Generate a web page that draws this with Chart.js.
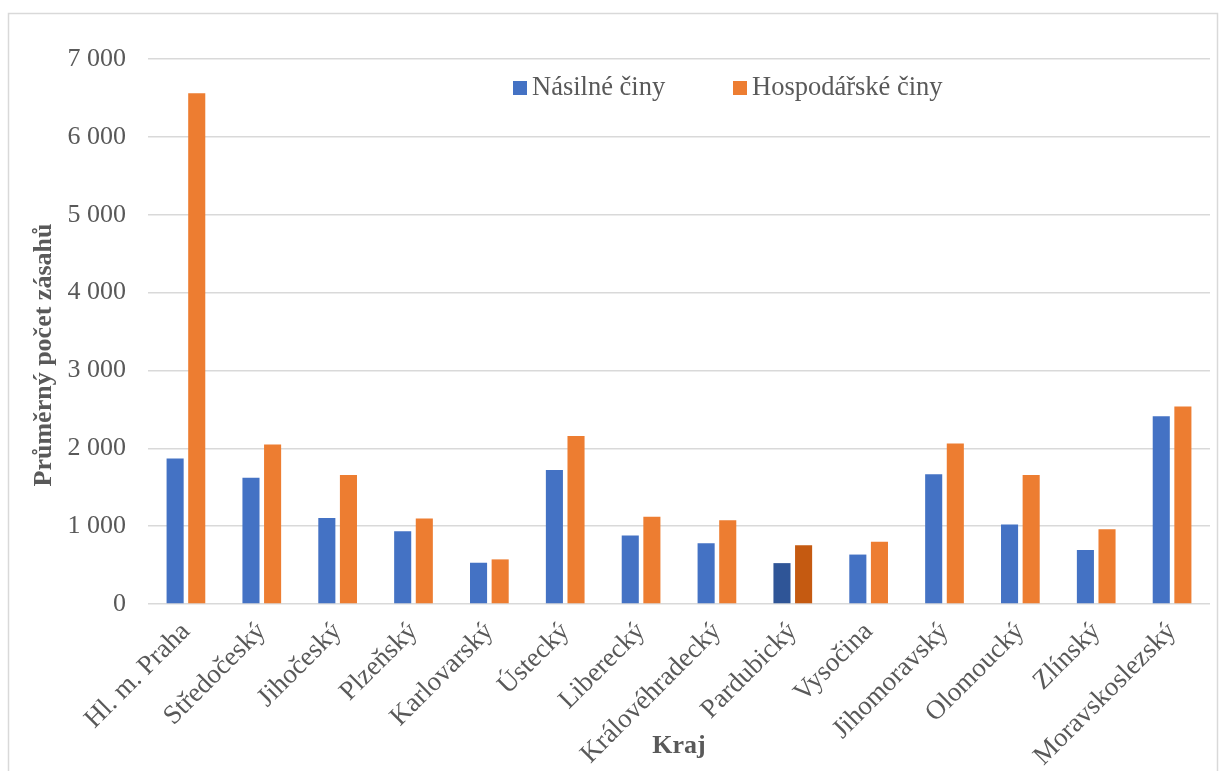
<!DOCTYPE html>
<html lang="cs">
<head>
<meta charset="utf-8">
<title>Průměrný počet zásahů podle krajů</title>
<script src="https://cdn.jsdelivr.net/npm/chart.js@4.4.1/dist/chart.umd.min.js"></script>
<style>
  html, body { margin: 0; padding: 0; background: #fff; }
  #wrap { width: 1222px; height: 771px; }
</style>
</head>
<body>
<div id="wrap"><canvas id="myChart" width="1222" height="771"></canvas></div>
<script>
const kraje = ['Hl. m. Praha', 'Středočeský', 'Jihočeský', 'Plzeňský', 'Karlovarský', 'Ústecký',
  'Liberecký', 'Královéhradecký', 'Pardubický', 'Vysočina', 'Jihomoravský', 'Olomoucký',
  'Zlínský', 'Moravskoslezský']
const nasilneCiny = [1870, 1620, 1105, 935, 530, 1720, 880, 780, 525, 635, 1665, 1020, 695, 2410]
const hospodarskeCiny = [6560, 2050, 1658, 1097, 573, 2158, 1122, 1075, 755, 800, 2060, 1658, 960, 2538]
const seriesNames = ['Násilné činy', 'Hospodářské činy']
const yTicks = [0, 1000, 2000, 3000, 4000, 5000, 6000, 7000]
const yTitle = 'Průměrný počet zásahů'
const xTitle = 'Kraj'
// Pardubický je v originále zvýrazněn tmavší barvou
const highlighted = 'Pardubický'

const colors = ['#4472C4', '#ED7D31']
const darkColors = ['#2F5597', '#C55A11']
const textColor = '#595959'
const gridColor = '#d9d9d9'
const serif = "'Liberation Serif', 'Times New Roman', serif"

const barColors = (i) => kraje.map((k) => (k === highlighted ? darkColors[i] : colors[i]))

const formatThousands = (value) => value.toString().replace(/\B(?=(\d{3})+(?!\d))/g, ' ')

const framePlugin = {
  id: 'frame',
  beforeDraw(chart) {
    const ctx = chart.ctx
    ctx.save()
    ctx.fillStyle = '#fff'
    ctx.fillRect(0, 0, chart.width, chart.height)
    ctx.strokeStyle = gridColor
    ctx.lineWidth = 1.5
    ctx.strokeRect(8.5, 13.5, 1209, 790)
    ctx.restore()
  },
}

const titleAndLegendPlugin = {
  id: 'titleAndLegend',
  afterDraw(chart) {
    const ctx = chart.ctx
    ctx.save()
    // y axis title
    ctx.translate(44, 355)
    ctx.rotate(-Math.PI / 2)
    ctx.font = 'bold 26px ' + serif
    ctx.fillStyle = textColor
    ctx.textAlign = 'center'
    ctx.textBaseline = 'middle'
    ctx.fillText(yTitle, 0, 0)
    ctx.restore()

    // legend inside plot area
    const legendX = [513, 733]
    ctx.save()
    ctx.font = '26.5px ' + serif
    ctx.textBaseline = 'alphabetic'
    ctx.textAlign = 'left'
    chart.data.datasets.forEach((ds, i) => {
      ctx.fillStyle = colors[i]
      ctx.fillRect(legendX[i], 81, 14, 14)
      ctx.fillStyle = textColor
      ctx.fillText(ds.label, legendX[i] + 19, 95)
    })
    ctx.restore()
  },
}

const ctx = document.getElementById('myChart').getContext('2d')

new Chart(ctx, {
  type: 'bar',
  data: {
    labels: kraje,
    datasets: [
      {
        label: seriesNames[0],
        data: nasilneCiny,
        backgroundColor: barColors(0),
        borderWidth: 0,
        categoryPercentage: 0.57,
        barPercentage: 0.79,
      },
      {
        label: seriesNames[1],
        data: hospodarskeCiny,
        backgroundColor: barColors(1),
        borderWidth: 0,
        categoryPercentage: 0.57,
        barPercentage: 0.79,
      },
    ],
  },
  options: {
    responsive: false,
    animation: false,
    devicePixelRatio: 1,
    layout: {
      padding: { left: 8, right: 12, top: 59, bottom: 5 },
    },
    scales: {
      x: {
        grid: { display: false },
        border: { display: false },
        ticks: {
          color: textColor,
          font: { family: serif, size: 27 },
          minRotation: 45,
          maxRotation: 45,
          padding: 4,
          autoSkip: false,
        },
        title: {
          display: true,
          text: xTitle,
          color: textColor,
          font: { family: serif, size: 26, weight: 'bold' },
          padding: { top: 4, bottom: 4 },
        },
        afterFit(scale) {
          scale.height = 162
        },
      },
      y: {
        min: 0,
        max: 7000,
        afterBuildTicks(scale) {
          scale.ticks = yTicks.map((v) => ({ value: v }))
        },
        grid: {
          color: gridColor,
          lineWidth: 1.5,
          drawTicks: false,
        },
        border: { display: false },
        ticks: {
          color: textColor,
          font: { family: serif, size: 26 },
          padding: 22,
          callback: (value) => formatThousands(value),
        },
        afterFit(scale) {
          scale.width = 140
        },
      },
    },
    plugins: {
      legend: { display: false },
      tooltip: { enabled: false },
    },
  },
  plugins: [framePlugin, titleAndLegendPlugin],
})
</script>
</body>
</html>
